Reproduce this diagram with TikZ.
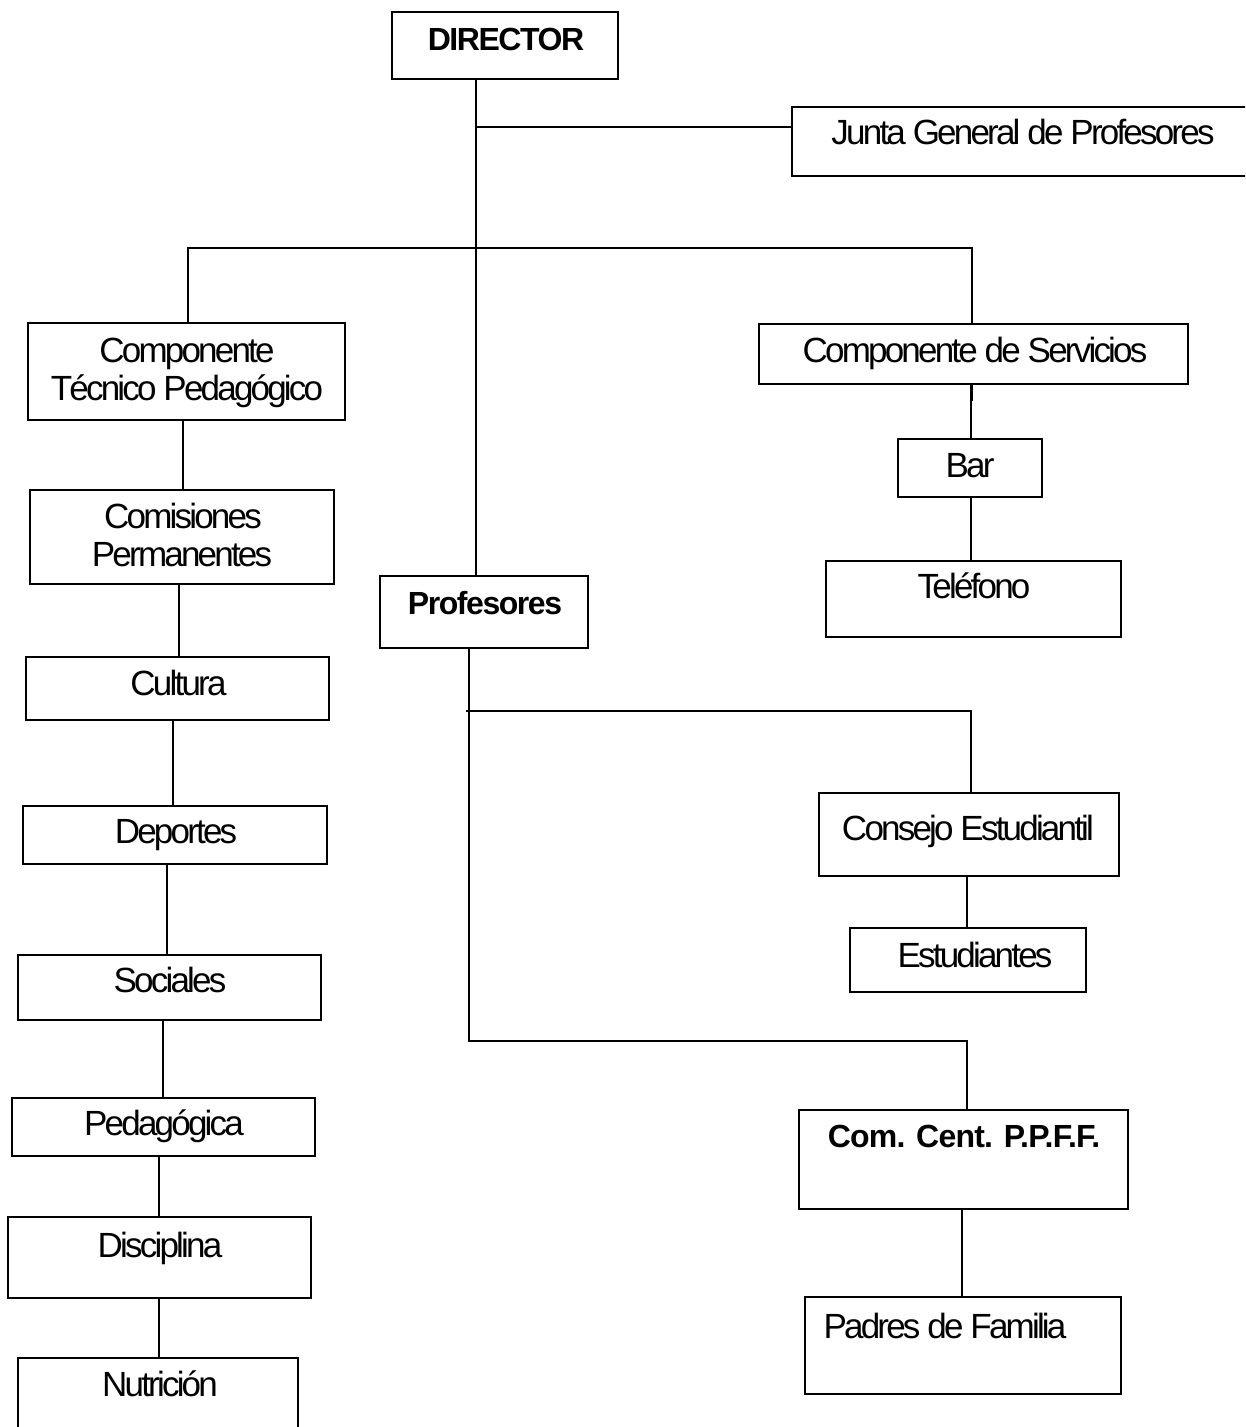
\documentclass[tikz,border=0pt]{standalone}
\usepackage{fontspec}
\setmainfont{Liberation Sans}[LetterSpace=-8]
\begin{document}
\begin{tikzpicture}[x=1pt,y=-1pt,
  obox/.style={draw=black, line width=2pt, rectangle, inner sep=0pt},
  conn/.style={draw=black, line width=1.8pt},
  lbl/.style={anchor=base, inner sep=0pt, font=\fontsize{35}{38}\selectfont},
  blbl/.style={anchor=base, inner sep=0pt, font=\fontsize{32}{36}\selectfont\bfseries\addfontfeature{LetterSpace=-4.5}}]
\useasboundingbox[fill=white] (0,0) rectangle (1245,1427);
\begin{scope}
\clip (0,0) rectangle (1245,1427);
% boxes
\node[obox, minimum width=226, minimum height=67] (dir) at (505,45.5) {};
\node[obox, minimum width=468, minimum height=69] (junta) at (1026,141.5) {};
\node[obox, minimum width=317, minimum height=97] (ctp) at (186.5,371.5) {};
\node[obox, minimum width=304, minimum height=94] (com) at (182,537) {};
\node[obox, minimum width=303, minimum height=63] (cul) at (177.5,688.5) {};
\node[obox, minimum width=304, minimum height=58] (dep) at (175,835) {};
\node[obox, minimum width=303, minimum height=65] (soc) at (169.5,987.5) {};
\node[obox, minimum width=303, minimum height=58] (ped) at (163.5,1127) {};
\node[obox, minimum width=303, minimum height=81] (dis) at (159.5,1257.5) {};
\node[obox, minimum width=280, minimum height=102] (nut) at (158,1409) {};
\node[obox, minimum width=208, minimum height=72] (prof) at (484,612) {};
\node[obox, minimum width=429, minimum height=60] (cs) at (973.5,354) {};
\node[obox, minimum width=144, minimum height=58] (bar) at (970,468) {};
\node[obox, minimum width=295, minimum height=76] (tel) at (973.5,599) {};
\node[obox, minimum width=300, minimum height=83] (con) at (969,834.5) {};
\node[obox, minimum width=236, minimum height=64] (est) at (968,960) {};
\node[obox, minimum width=329, minimum height=99] (ppff) at (963.5,1159.5) {};
\node[obox, minimum width=316, minimum height=97] (pad) at (963,1345.5) {};
% texts
\node[blbl] (dirT) at (506,50) {DIRECTOR};
\node[lbl] (juntaT) at (1023,144) {Junta General de Profesores};
\node[lbl] (ctpA) at (187,362) {Componente};
\node[lbl] (ctpB) at (187,400) {Técnico Pedagógico};
\node[lbl] (comA) at (183,528) {Comisiones};
\node[lbl] (comB) at (182,566) {Permanentes};
\node[lbl] (culT) at (178.5,695) {Cultura};
\node[lbl] (depT) at (176,843) {Deportes};
\node[lbl] (socT) at (170,992) {Sociales};
\node[lbl] (pedT) at (164,1135) {Pedagógica};
\node[lbl] (disT) at (160,1257) {Disciplina};
\node[lbl] (nutT) at (160,1396) {Nutrición};
\node[blbl] (profT) at (485,614) {Profesores};
\node[lbl] (csT) at (975,362) {Componente de Servicios};
\node[lbl] (barT) at (970,477) {Bar};
\node[lbl] (telT) at (974,598) {Teléfono};
\node[lbl] (conT) at (968,840) {Consejo Estudiantil};
\node[lbl] (estT) at (975,967) {Estudiantes};
\node[blbl, font=\fontsize{32}{36}\selectfont\bfseries\addfontfeature{LetterSpace=-2.5}] (ppffT) at (964,1147) {Com. Cent. P.P.F.F.};
\node[lbl] (padT) at (945,1338) {Padres de Familia};
% connectors
\coordinate (jn) at (476,127);
\draw[conn] (476,0 |- dir.south) -- (476,0 |- prof.north);
\draw[conn] (jn) -- (junta.west |- jn);
\draw[conn] (188,0 |- ctp.north) -- (188,248) -- (972,248) -- (972,0 |- cs.north);
\draw[conn] (183,0 |- ctp.south) -- (183,0 |- com.north);
\draw[conn] (179,0 |- com.south) -- (179,0 |- cul.north);
\draw[conn] (173,0 |- cul.south) -- (173,0 |- dep.north);
\draw[conn] (167,0 |- dep.south) -- (167,0 |- soc.north);
\draw[conn] (163,0 |- soc.south) -- (163,0 |- ped.north);
\draw[conn] (159,0 |- ped.south) -- (159,0 |- dis.north);
\draw[conn] (159,0 |- dis.south) -- (159,0 |- nut.north);
\draw[conn] (971,0 |- cs.south) -- (971,0 |- bar.north);
\draw[conn] (972.5,0 |- cs.south) -- ++(0,16);
\draw[conn] (971,0 |- bar.south) -- (971,0 |- tel.north);
\draw[conn] (469,0 |- prof.south) -- (469,1041) -- (967,1041) -- (967,0 |- ppff.north);
\draw[conn] (466,711) -- (971,711) -- (971,0 |- con.north);
\draw[conn] (967,0 |- con.south) -- (967,0 |- est.north);
\draw[conn] (962,0 |- ppff.south) -- (962,0 |- pad.north);
\end{scope}
\end{tikzpicture}
\end{document}
